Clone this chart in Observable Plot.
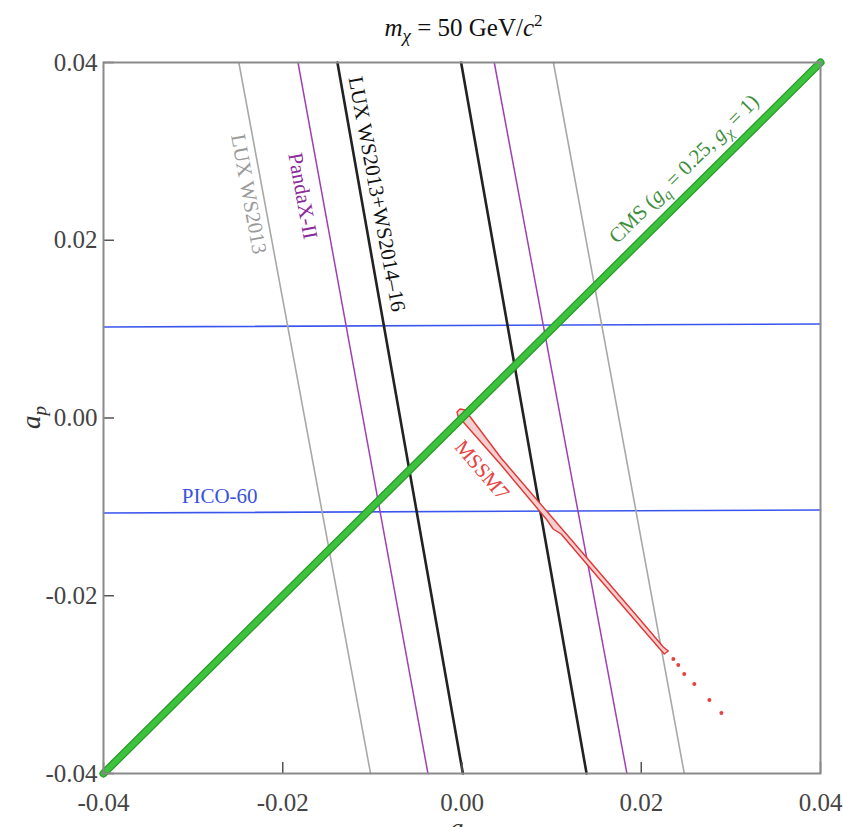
<!DOCTYPE html>
<html><head><meta charset="utf-8">
<script src="https://cdn.jsdelivr.net/npm/d3@7"></script>
<script src="https://cdn.jsdelivr.net/npm/@observablehq/plot@0.6"></script>
<style>body{margin:0;background:#fff;} svg{display:block;}</style>
</head><body><div id="chart"></div>
<script>
// ---- data ----
const xTicks = [-0.04, -0.02, 0.00, 0.02, 0.04];
const yTicks = [-0.04, -0.02, 0.00, 0.02, 0.04];

// Direct-detection band edges: a_n where each edge meets a_p = +0.04 (top) and a_p = -0.04 (bottom)
const experiments   = ["LUX WS2013", "PandaX-II", "LUX WS2013+WS2014\u201316"];
const leftEdgeTop   = [-0.0249, -0.0183, -0.0139];
const leftEdgeBot   = [-0.0102, -0.0038,  0.0001];
const rightEdgeTop  = [ 0.0102,  0.0036, -0.0001];
const rightEdgeBot  = [ 0.0248,  0.0184,  0.0139];
const edgeAp        = [0.04, -0.04];

// PICO-60 limits (horizontal band)
const picoAn    = [-0.04, 0.04];
const picoUpper = [0.01024, 0.01058];
const picoLower = [-0.01069, -0.01035];

// CMS (g_q = 0.25, g_chi = 1)
const cmsAn = [-0.04, 0.04];
const cmsAp = [-0.04, 0.04];

// MSSM7 contour
const mssmAn = [-0.00056, -0.00022, 0.00034, 0.00436, 0.00939, 0.01553, 0.02000, 0.02246, 0.02302,
                0.02257, 0.02000, 0.01553, 0.01106, 0.01017, 0.00939, 0.00436, -0.00045, -0.00056];
const mssmAp = [0.00068, 0.00101, 0.00090, -0.00450, -0.01041, -0.01761, -0.02284, -0.02577, -0.02622,
                -0.02655, -0.02357, -0.01834, -0.01305, -0.01249, -0.01136, -0.00529, 0.00023, 0.00068];
const mssmDotAn = [0.02358, 0.02413, 0.0248, 0.02592, 0.0276, 0.02894];
const mssmDotAp = [-0.02712, -0.02779, -0.0288, -0.02993, -0.03173, -0.0332];

// labels
const labelText = ["LUX WS2013", "PandaX-II", "LUX WS2013+WS2014\u201316", "MSSM7", "PICO-60"];
const labelAn   = [-0.0238, -0.01777, -0.0095, 0.00223, -0.02704];
const labelAp   = [0.0252, 0.02498, 0.0252, -0.00585, -0.00878];
const labelRot  = [79.5, 79.5, 79.5, 49.3, 0];
const labelCol  = ["#9a9a9a", "#8a2a9c", "#111111", "#e84444", "#3a52e0"];

// ---- build tables ----
const colors = {"LUX WS2013": "#a8a8a8", "PandaX-II": "#a040b4", "LUX WS2013+WS2014\u201316": "#222222"};
const widths = {"LUX WS2013": 1.6, "PandaX-II": 1.5, "LUX WS2013+WS2014\u201316": 2.6};
const edges = [];
experiments.forEach((e, i) => {
  edges.push({exp: e, side: "L", an: leftEdgeTop[i], ap: edgeAp[0]});
  edges.push({exp: e, side: "L", an: leftEdgeBot[i], ap: edgeAp[1]});
  edges.push({exp: e, side: "R", an: rightEdgeTop[i], ap: edgeAp[0]});
  edges.push({exp: e, side: "R", an: rightEdgeBot[i], ap: edgeAp[1]});
});
const pico = [
  ...picoAn.map((a, i) => ({k: "up", an: a, ap: picoUpper[i]})),
  ...picoAn.map((a, i) => ({k: "lo", an: a, ap: picoLower[i]}))
];
const cms = cmsAn.map((a, i) => ({an: a, ap: cmsAp[i]}));
const mssm = mssmAn.map((a, i) => ({an: a, ap: mssmAp[i]}));
const mssmDots = mssmDotAn.map((a, i) => ({an: a, ap: mssmDotAp[i]}));
const labels = labelText.map((t, i) => ({t, an: labelAn[i], ap: labelAp[i], rot: labelRot[i], col: labelCol[i]}));

const W = 843, H = 827, mL = 103, mR = 23, mT = 62, mB = 54;
const fw = W - mL - mR, fh = H - mT - mB;

const marks = [
  Plot.line(pico, {x: "an", y: "ap", z: "k", stroke: "#3a55ee", strokeWidth: 1.6}),
  ...experiments.map(e => Plot.line(edges.filter(d => d.exp === e), {x: "an", y: "ap", z: "side", stroke: colors[e], strokeWidth: widths[e]})),
  Plot.line(mssm, {x: "an", y: "ap", fill: "#f2d0d0", stroke: "#e33535", strokeWidth: 1.4, strokeLinejoin: "round"}),
  Plot.dot(mssmDots, {x: "an", y: "ap", r: 2, fill: "#e84040"}),
  Plot.line(cms, {x: "an", y: "ap", stroke: "#2a9a2a", strokeWidth: 8}),
  Plot.line(cms, {x: "an", y: "ap", stroke: "#3cc23c", strokeWidth: 5.5}),
  ...labels.map(l => Plot.text([l], {x: "an", y: "ap", text: "t", rotate: l.rot, fill: l.col, fontSize: 21, textAnchor: "middle", lineAnchor: "middle"})),
  Plot.tickX(xTicks, {x: d => d, insetTop: fh - 11, stroke: "#555", strokeWidth: 1.5}),
  Plot.tickY(yTicks, {y: d => d, insetRight: fw - 11, stroke: "#555", strokeWidth: 1.5}),
  Plot.frame({stroke: "#8a8a8a", strokeWidth: 2}),
  Plot.axisX(xTicks, {tickSize: 0, tickPadding: 20, fontSize: 25, fill: "#444", tickFormat: d => d.toFixed(2), label: null}),
  Plot.axisY(yTicks, {tickSize: 0, tickPadding: 6, fontSize: 25, fill: "#444", tickFormat: d => d.toFixed(2), label: null})
];

const plot = Plot.plot({
  width: W, height: H,
  marginLeft: mL, marginRight: mR, marginTop: mT, marginBottom: mB,
  x: {domain: [-0.04, 0.04]},
  y: {domain: [-0.04, 0.04]},
  style: {fontFamily: "'Liberation Serif', 'DejaVu Serif', serif", background: "#fff", overflow: "hidden"},
  marks
});
document.getElementById("chart").appendChild(plot);

// ---- rich-text annotations (positions from the plot's scales) ----
const sx = plot.scale("x"), sy = plot.scale("y");
const svg = d3.select(plot);
const font = "'Liberation Serif', 'DejaVu Serif', serif";

// title
const title = svg.append("text").attr("x", sx.apply(0) + 2).attr("y", 36)
  .attr("text-anchor", "middle").attr("font-family", font).attr("font-size", 25).attr("fill", "#111");
title.append("tspan").attr("font-style", "italic").text("m");
title.append("tspan").attr("font-style", "italic").attr("font-size", 19).attr("dy", 6).text("\u03c7");
title.append("tspan").attr("dy", -6).text(" = 50 GeV/");
title.append("tspan").attr("font-style", "italic").text("c");
title.append("tspan").attr("font-size", 17).attr("dy", -10).text("2");

// y-axis label a_p
const yl = svg.append("text").attr("transform", `translate(40,${sy.apply(0)}) rotate(-90)`)
  .attr("text-anchor", "middle").attr("font-family", font).attr("font-size", 27).attr("fill", "#333").attr("font-style", "italic");
yl.append("tspan").text("a");
yl.append("tspan").attr("font-size", 19).attr("dy", 6).text("p");

// x-axis label a_n (mostly below the bottom edge, as in the reference)
const xl = svg.append("text").attr("x", sx.apply(0)).attr("y", 837)
  .attr("text-anchor", "middle").attr("font-family", font).attr("font-size", 27).attr("fill", "#333").attr("font-style", "italic");
xl.append("tspan").text("a");
xl.append("tspan").attr("font-size", 19).attr("dy", 6).text("n");

// CMS label along the diagonal
const cx = sx.apply(0.0248), cy = sy.apply(0.028);
const cl = svg.append("text").attr("transform", `translate(${cx},${cy}) rotate(-44.8)`)
  .attr("text-anchor", "middle").attr("y", 7).attr("font-family", font).attr("font-size", 21).attr("fill", "#3e8e3e");
cl.append("tspan").text("CMS (");
cl.append("tspan").attr("font-style", "italic").text("g");
cl.append("tspan").attr("font-style", "italic").attr("font-size", 15).attr("dy", 5).text("q");
cl.append("tspan").attr("dy", -5).text(" = 0.25, ");
cl.append("tspan").attr("font-style", "italic").text("g");
cl.append("tspan").attr("font-style", "italic").attr("font-size", 15).attr("dy", 5).text("\u03c7");
cl.append("tspan").attr("dy", -5).text(" = 1)");
</script></body></html>
